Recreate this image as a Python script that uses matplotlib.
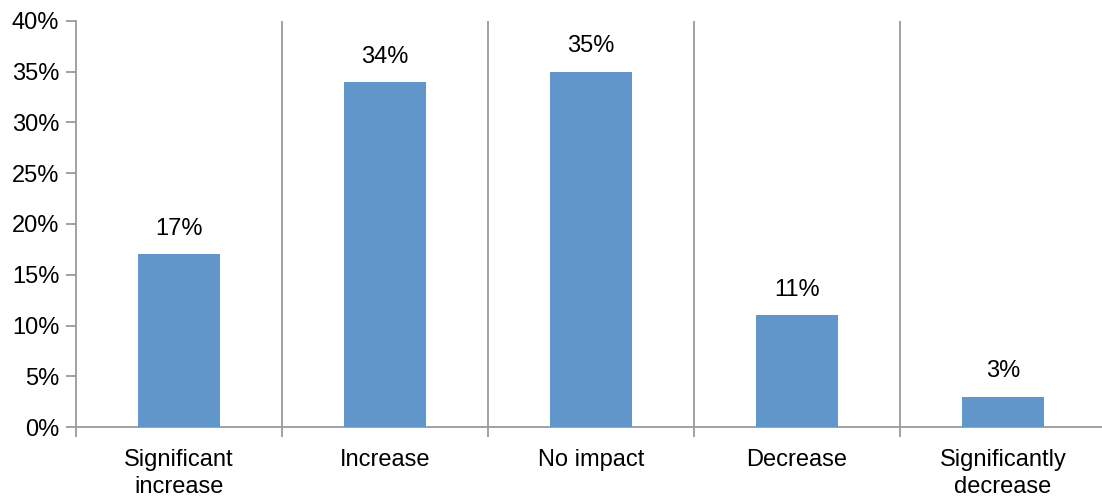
import matplotlib
matplotlib.use('Agg')
from matplotlib import pyplot as plt
import numpy as np

plt.rcParams['font.family'] = ['Liberation Sans', 'DejaVu Sans']

categories = ['Significant\nincrease', 'Increase', 'No impact', 'Decrease', 'Significantly\ndecrease']
values = [17, 34, 35, 11, 3]
yticks = [0, 5, 10, 15, 20, 25, 30, 35, 40]

fig = plt.figure(figsize=(11.02, 4.96), dpi=100)
ax = fig.add_axes([0.069, 0.139, 0.9347, 0.819])

x = np.arange(len(categories))
ax.bar(x, values, width=0.4, color='#6096C9', zorder=3)
for xi, v in zip(x, values):
    ax.text(xi, v + 1.4, f'{v}%', ha='center', va='bottom', fontsize=17, color='black')

ax.set_xlim(-0.5, len(categories) - 0.5)
ax.set_ylim(0, 40)
ax.set_yticks(yticks)
ax.set_yticklabels([f'{t}%' for t in yticks], fontsize=17)
ax.set_xticks(x)
ax.set_xticklabels(categories, fontsize=17, linespacing=1.3)
ax.tick_params(axis='x', which='major', length=0, pad=16)
ax.set_xticks(np.arange(-0.5, len(categories), 1), minor=True)
ax.tick_params(axis='x', which='minor', length=7, color='#9a9a9a', width=1.3)
ax.tick_params(axis='y', length=7, color='#9a9a9a', width=1.3, pad=5)

for b in np.arange(0.5, len(categories) - 0.5, 1):
    ax.axvline(b, color='#9a9a9a', lw=1.3, zorder=1)

for s in ['top', 'right']:
    ax.spines[s].set_visible(False)
for s in ['left', 'bottom']:
    ax.spines[s].set_color('#9a9a9a')
    ax.spines[s].set_linewidth(1.3)

plt.savefig('out.png', dpi=100)
